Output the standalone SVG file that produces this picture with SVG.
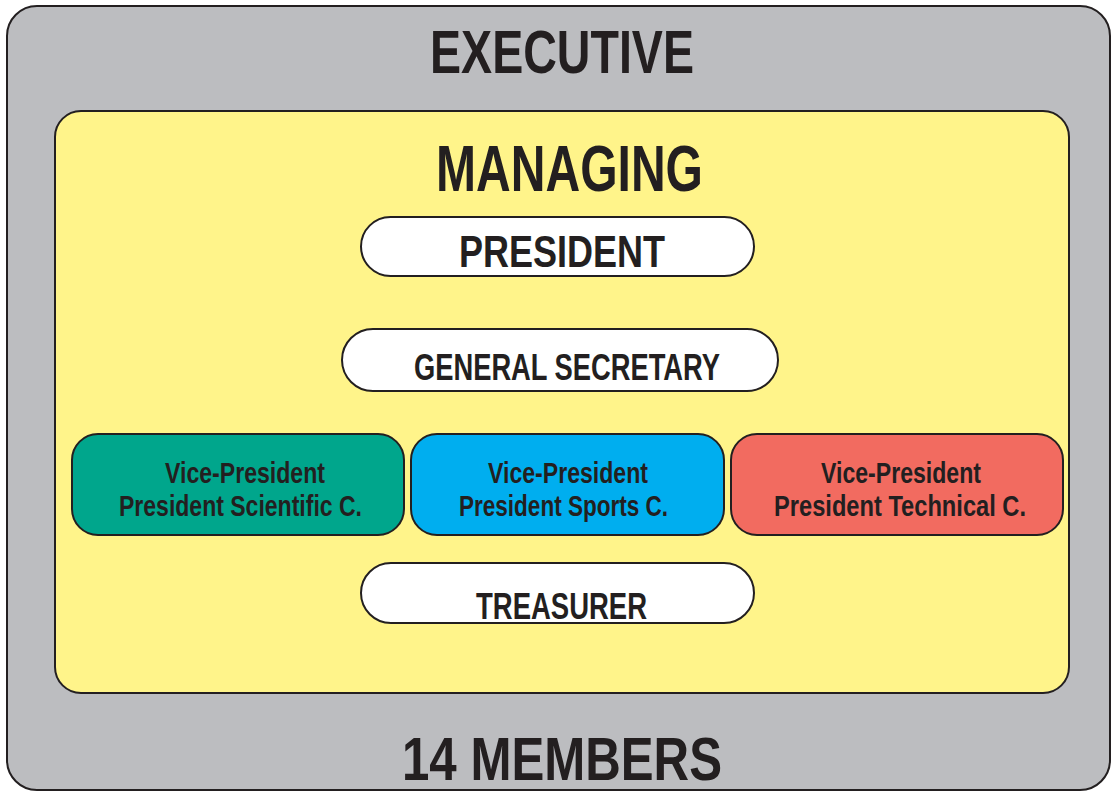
<svg xmlns="http://www.w3.org/2000/svg" width="1113" height="793" viewBox="0 0 1113 793">
  <style>
    .frame { stroke: #231f20; stroke-width: 2; }
    .t { font-family: "Liberation Sans", Arial, sans-serif; font-weight: bold; fill: #231f20; text-anchor: middle; }
    .pill { fill: #ffffff; stroke: #231f20; stroke-width: 2; }
    .vp { stroke: #231f20; stroke-width: 2; }
  </style>
  <rect width="1113" height="793" fill="#ffffff"/>

  <!-- Executive body -->
  <g id="executive">
    <rect class="frame" x="7" y="6" width="1103" height="784" rx="30" fill="#bcbdc0"/>
    <text class="t" x="562" y="73" font-size="62" textLength="264" lengthAdjust="spacingAndGlyphs">EXECUTIVE</text>
    <text class="t" x="562" y="780" font-size="62" textLength="320" lengthAdjust="spacingAndGlyphs">14 MEMBERS</text>
  </g>

  <!-- Managing board -->
  <g id="managing">
    <rect class="frame" x="55" y="111" width="1014" height="582" rx="26" fill="#fff48a"/>
    <text class="t" x="569.5" y="191" font-size="65" textLength="267" lengthAdjust="spacingAndGlyphs">MANAGING</text>
  </g>

  <g id="president">
    <rect class="pill" x="361" y="217" width="393" height="59" rx="29.5"/>
    <text class="t" x="562" y="267" font-size="44" textLength="206" lengthAdjust="spacingAndGlyphs">PRESIDENT</text>
  </g>

  <g id="general-secretary">
    <rect class="pill" x="342" y="329" width="436" height="62" rx="31"/>
    <text class="t" x="567" y="380" font-size="36" textLength="306" lengthAdjust="spacingAndGlyphs">GENERAL SECRETARY</text>
  </g>

  <g id="vp-scientific">
    <rect class="vp" x="72" y="434" width="332" height="101" rx="26" fill="#00a68c"/>
    <text class="t" x="245" y="483" font-size="29" textLength="160" lengthAdjust="spacingAndGlyphs">Vice-President</text>
    <text class="t" x="240.5" y="516" font-size="29" textLength="243" lengthAdjust="spacingAndGlyphs">President Scientific C.</text>
  </g>

  <g id="vp-sports">
    <rect class="vp" x="411" y="434" width="313" height="101" rx="26" fill="#00aeef"/>
    <text class="t" x="568" y="483" font-size="29" textLength="160" lengthAdjust="spacingAndGlyphs">Vice-President</text>
    <text class="t" x="563.5" y="516" font-size="29" textLength="209" lengthAdjust="spacingAndGlyphs">President Sports C.</text>
  </g>

  <g id="vp-technical">
    <rect class="vp" x="731" y="434" width="332" height="101" rx="26" fill="#f26b60"/>
    <text class="t" x="901" y="483" font-size="29" textLength="160" lengthAdjust="spacingAndGlyphs">Vice-President</text>
    <text class="t" x="900" y="516" font-size="29" textLength="252" lengthAdjust="spacingAndGlyphs">President Technical C.</text>
  </g>

  <g id="treasurer">
    <rect class="pill" x="361" y="563" width="393" height="60" rx="30"/>
    <text class="t" x="561.5" y="619" font-size="36" textLength="171" lengthAdjust="spacingAndGlyphs">TREASURER</text>
  </g>

  <g id="connectors"/>
</svg>
